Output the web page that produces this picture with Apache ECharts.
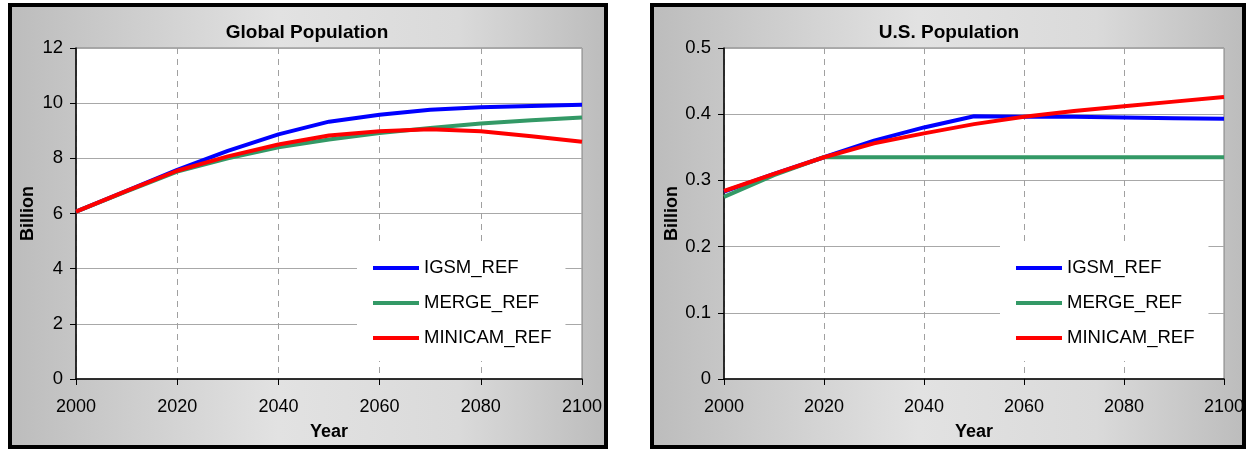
<!DOCTYPE html>
<html><head><meta charset="utf-8">
<script src="https://cdn.jsdelivr.net/npm/echarts@6/dist/echarts.min.js"></script>
<style>html,body{margin:0;padding:0;background:#fff}#c{width:1249px;height:452px}</style>
</head><body><div id="c"></div>
<script>
const years = [2000, 2010, 2020, 2030, 2040, 2050, 2060, 2070, 2080, 2090, 2100];
const seriesNames = ['IGSM_REF', 'MERGE_REF', 'MINICAM_REF'];
const globalIGSM    = [6.07, 6.82, 7.58, 8.27, 8.87, 9.33, 9.58, 9.76, 9.85, 9.90, 9.94];
const globalMERGE   = [6.07, 6.80, 7.52, 8.00, 8.40, 8.68, 8.92, 9.10, 9.26, 9.38, 9.48];
const globalMINICAM = [6.07, 6.82, 7.55, 8.07, 8.50, 8.83, 8.98, 9.05, 8.98, 8.80, 8.60];
const usIGSM    = [0.283, 0.310, 0.335, 0.360, 0.380, 0.397, 0.396, 0.396, 0.395, 0.394, 0.393];
const usMERGE   = [0.275, 0.308, 0.335, 0.335, 0.335, 0.335, 0.335, 0.335, 0.335, 0.335, 0.335];
const usMINICAM = [0.284, 0.310, 0.335, 0.356, 0.371, 0.385, 0.396, 0.405, 0.412, 0.419, 0.426];
const titles = ['Global Population', 'U.S. Population'];
const colors = ['#0000ff', '#339966', '#ff0000'];

const FONT = "'Liberation Sans', Arial, sans-serif";
const pair = (vals) => years.map((y, i) => [y, vals[i]]);

const chart = echarts.init(document.getElementById('c'), null, {renderer: 'canvas'});

const grids = [
  {left: 76, top: 48, width: 506, height: 331},
  {left: 724, top: 48, width: 500, height: 331}
];
const frames = [
  {x: 10, y: 5, w: 596, h: 442},
  {x: 652, y: 5, w: 592, h: 442}
];
const grad = () => new echarts.graphic.LinearGradient(0, 0, 1, 0, [
  {offset: 0, color: '#bcbcbc'}, {offset: 0.45, color: '#e2e2e2'}, {offset: 0.75, color: '#dadada'}, {offset: 1, color: '#bcbcbc'}
]);

function xAxis(gi) {
  return {
    type: 'value', gridIndex: gi, min: 2000, max: 2100, interval: 20,
    name: 'Year', nameLocation: 'middle', nameGap: 44,
    nameTextStyle: {fontFamily: FONT, fontSize: 18, fontWeight: 'bold', color: '#000'},
    axisLine: {show: true, lineStyle: {color: '#000', width: 1.5}},
    axisTick: {show: true, length: 6, lineStyle: {color: '#000'}},
    axisLabel: {fontFamily: FONT, fontSize: 18, color: '#000', margin: 19, formatter: v => String(v)},
    splitLine: {show: true, lineStyle: {color: '#a0a0a0', type: [6, 5], width: 1}}
  };
}
function yAxis(gi, max, interval) {
  return {
    type: 'value', gridIndex: gi, min: 0, max: max, interval: interval,
    name: 'Billion', nameLocation: 'middle', nameGap: 39,
    nameTextStyle: {fontFamily: FONT, fontSize: 18, fontWeight: 'bold', color: '#000'},
    axisLine: {show: true, lineStyle: {color: '#000', width: 1.5}},
    axisTick: {show: true, length: 6, lineStyle: {color: '#000'}},
    axisLabel: {fontFamily: FONT, fontSize: 18.5, color: '#000', margin: 13},
    splitLine: {show: true, lineStyle: {color: '#a8a8a8', width: 1}}
  };
}
function mkSeries(gi, datas) {
  return datas.map((d, i) => ({
    name: seriesNames[i], type: 'line', xAxisIndex: gi, yAxisIndex: gi,
    data: pair(d), symbol: 'none', smooth: false,
    lineStyle: {color: colors[i], width: 4}, itemStyle: {color: colors[i]},
    z: 3 + i, animation: false
  }));
}
function legend(left) {
  return {
    orient: 'vertical', left: left, top: 245,
    data: seriesNames, icon: 'rect', itemWidth: 46, itemHeight: 4, itemGap: 15,
    backgroundColor: '#ffffff', padding: [13, 14, 13, 16],
    textStyle: {fontFamily: FONT, fontSize: 18.5, color: '#000', lineHeight: 20},
    selectedMode: false
  };
}

chart.setOption({
  animation: false,
  color: colors,
  graphic: frames.map(f => ({
    type: 'rect', z: -10, silent: true,
    shape: {x: f.x, y: f.y, width: f.w, height: f.h},
    style: {fill: grad(), stroke: '#000', lineWidth: 4}
  })),
  title: [
    {text: titles[0], left: 302, top: 18, textAlign: 'center',
     textStyle: {fontFamily: FONT, fontSize: 19, fontWeight: 'bold', color: '#000'}},
    {text: titles[1], left: 944, top: 18, textAlign: 'center',
     textStyle: {fontFamily: FONT, fontSize: 19, fontWeight: 'bold', color: '#000'}}
  ],
  grid: grids.map(g => Object.assign({show: true, backgroundColor: '#fff', borderColor: '#808080', borderWidth: 1}, g)),
  xAxis: [xAxis(0), xAxis(1)],
  yAxis: [yAxis(0, 12, 2), yAxis(1, 0.5, 0.1)],
  legend: [legend(357), legend(1000)],
  series: [].concat(
    mkSeries(0, [globalIGSM, globalMERGE, globalMINICAM]),
    mkSeries(1, [usIGSM, usMERGE, usMINICAM])
  )
});
</script></body></html>
